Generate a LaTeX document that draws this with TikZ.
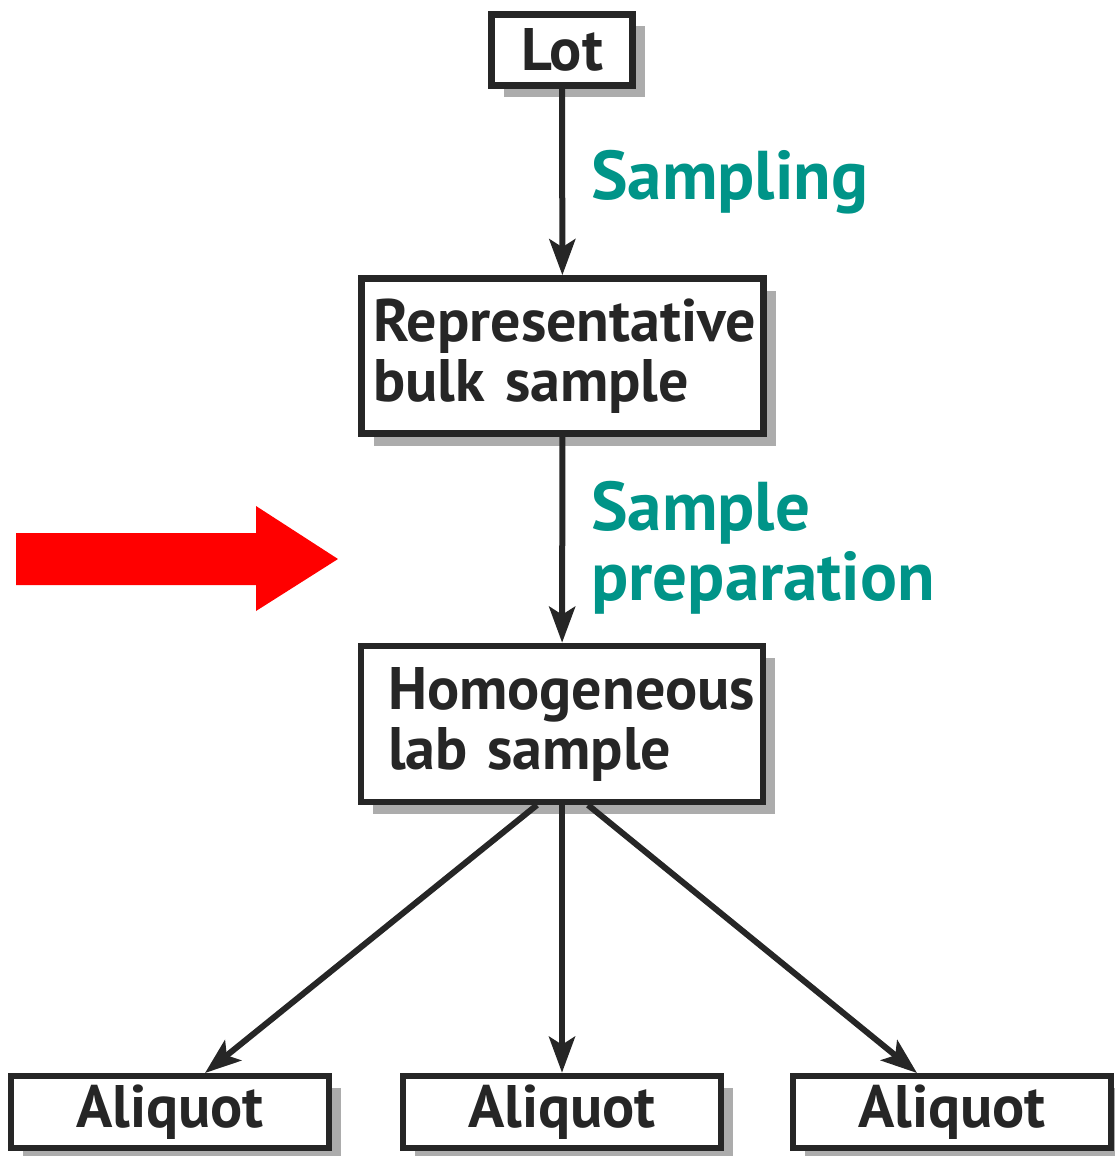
\documentclass[tikz,border=0pt]{standalone}
\usepackage{fontspec}
\setmainfont{PT Sans}
\usetikzlibrary{arrows.meta,shadows}
\definecolor{tealtext}{RGB}{0,148,136}
\definecolor{shadowgray}{RGB}{172,172,172}
\newcommand\boxfont{\fontsize{30}{30}\selectfont\bfseries\fontdimen2\font=4pt\relax}
\tikzset{
  box/.style={draw=black!85,line width=3.3pt,fill=white,inner sep=0pt,
    font=\boxfont,text=black!85,
    drop shadow={shadow xshift=6pt,shadow yshift=-6pt,fill=shadowgray,opacity=1}},
  conn/.style={draw=black!85,line width=3pt,-{Stealth[length=18pt,width=13pt,inset=4pt]}},
  lbl/.style={font=\fontsize{34.5}{35}\selectfont\bfseries,text=tealtext,align=left,inner sep=0pt}
}
\begin{document}
\begin{tikzpicture}[x=0.5pt,y=-0.5pt,line join=miter]
\useasboundingbox (0,0) rectangle (1114,1156);
% boxes
\node[box,minimum width=70.5pt,minimum height=35.5pt] (lot) at (562,50) {Lot};
\node[box,minimum width=201pt,minimum height=77.5pt,text width=189pt,inner xsep=6pt,align=left] (rep) at (562.5,356) {Representative\\bulk sample};
\node[box,minimum width=201pt,minimum height=78pt,text width=174pt,inner xsep=13.5pt,align=left] (hom) at (562,724) {Homogeneous\\lab sample};
\foreach \n/\x in {alqa/170,alqb/562,alqc/952}
  \node[box,minimum width=159pt,minimum height=36pt] (\n) at (\x,1112) {Aliquot};
% connectors
\draw[conn] (lot) -- node[lbl,right=13pt] {Sampling} (rep);
\draw[conn] (rep) -- node[lbl,right=13pt,yshift=-4pt] {Sample\\preparation} (hom);
\coordinate (hl) at (537,805);
\coordinate (hr) at (588,805);
\coordinate (al) at (205,1073);
\coordinate (ar) at (917,1073);
\draw[conn] (hl) -- (al);
\draw[conn] (hom) -- (alqb);
\draw[conn] (hr) -- (ar);
% red pointer
\fill[red] (16,533) -- (256,533) -- (256,506) -- (338,559) -- (256,611) -- (256,585) -- (16,585) -- cycle;
\end{tikzpicture}
\end{document}
